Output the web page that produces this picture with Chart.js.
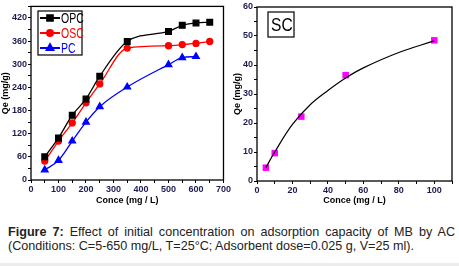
<!DOCTYPE html>
<html>
<head>
<meta charset="utf-8">
<script src="https://cdn.jsdelivr.net/npm/chart.js@4"></script>
<style>
  body { margin: 0; background: #fff; width: 459px; height: 266px; position: relative; overflow: hidden; }
  .wrap { position: absolute; top: 0; }
  #left { left: 0; width: 232px; height: 206px; }
  #right { left: 232px; width: 227px; height: 206px; }
  .cap {
    position: absolute; left: 8px; width: 447px;
    font-family: "Liberation Sans", Arial, sans-serif; font-size: 12.6px; color: #222;
    white-space: nowrap;
  }
  #cap1 { top: 225px; text-align: justify; text-align-last: justify; white-space: normal; }
  #cap2 { top: 239px; }
  .bar { position: absolute; left: 0; right: 0; bottom: 0; height: 3px; background: #ececec; }
</style>
</head>
<body>
<div class="wrap" id="left"><canvas id="c1"></canvas></div>
<div class="wrap" id="right"><canvas id="c2"></canvas></div>
<div class="cap" id="cap1"><b>Figure 7:</b> Effect of initial concentration on adsorption capacity of MB by AC</div>
<div class="cap" id="cap2">(Conditions: C=5-650 mg/L, T=25°C; Adsorbent dose=0.025 g, V=25 ml).</div>
<div class="bar"></div>
<script>
// left panel
const concA = [50, 100, 150, 200, 250, 350, 500, 550, 600, 650];
const opc = [60, 109, 168, 210, 269, 359, 385, 401, 407, 409];
const osc = [49, 101, 148, 200, 249, 342, 348, 351, 354, 359];
const concPC = [50, 100, 150, 200, 250, 350, 500, 550, 600];
const pc = [26, 51, 101, 150, 190, 241, 299, 317, 320];

// right panel
const concSC = [5, 10, 25, 50, 100];
const sc = [4.6, 9.6, 22.2, 36.5, 48.5];
const fitX = [5, 10, 20, 30, 40, 50, 60, 80, 100];
const fitSC = [4.6, 10, 19.5, 26.3, 31.2, 35.5, 39, 44.3, 48.3];

const narrow = "'Liberation Sans Narrow', 'Liberation Sans', Arial, sans-serif";
const tickFont = { family: narrow, size: 9, weight: 'bold' };
const tickColor = '#1c1c50';

const pts = (xs, ys) => xs.map((x, i) => ({ x: x, y: ys[i] }));

const frame = {
  id: 'frame',
  afterDraw(chart) {
    const a = chart.chartArea, ctx = chart.ctx;
    ctx.save();
    ctx.strokeStyle = '#000';
    ctx.lineWidth = 1.3;
    ctx.strokeRect(a.left, a.top, a.right - a.left, a.bottom - a.top);
    ctx.restore();
  }
};

// squeezed text, the original uses a condensed face
function narrowText(ctx, txt, x, y, size, sx) {
  ctx.save();
  ctx.translate(x, y);
  ctx.scale(sx, 1);
  ctx.font = size + "px 'Liberation Sans', Arial, sans-serif";
  ctx.fillText(txt, 0, 0);
  ctx.restore();
}

const legendBox = {
  id: 'legendBox',
  afterDraw(chart) {
    const ctx = chart.ctx;
    ctx.save();
    ctx.strokeStyle = '#000';
    ctx.lineWidth = 1.2;
    ctx.strokeRect(38, 11, 44, 44);
    chart.data.datasets.forEach((ds, i) => {
      const y = 18 + i * 15;
      ctx.strokeStyle = ds.borderColor;
      ctx.lineWidth = 2;
      ctx.beginPath(); ctx.moveTo(40, y); ctx.lineTo(60, y); ctx.stroke();
      ctx.fillStyle = ds.borderColor;
      Chart.helpers.drawPoint(ctx, { pointStyle: ds.pointStyle, radius: ds.pointRadius, borderWidth: 1 }, 50, y);
      ctx.textBaseline = 'middle';
      narrowText(ctx, ds.label, 61, y + 1, 14, 0.75);
    });
    ctx.restore();
  }
};

const scBox = {
  id: 'scBox',
  afterDraw(chart) {
    const ctx = chart.ctx;
    ctx.save();
    ctx.strokeStyle = '#000';
    ctx.lineWidth = 1.2;
    ctx.strokeRect(36, 12, 26, 25);
    ctx.fillStyle = '#000';
    ctx.textBaseline = 'middle';
    narrowText(ctx, 'SC', 39, 25.5, 19, 0.82);
    ctx.restore();
  }
};

function axis(min, max, step, labelEvery, title, fit) {
  return {
    type: 'linear', min: min, max: max,
    afterFit: fit,
    border: { display: false },
    grid: { drawOnChartArea: false, tickLength: 3, color: '#000', lineWidth: 1 },
    ticks: {
      stepSize: step, autoSkip: false, maxRotation: 0, padding: 1,
      color: tickColor, font: tickFont,
      callback: v => (Math.round(v / labelEvery) * labelEvery === v ? v : '')
    },
    title: { display: true, text: title, color: '#000', font: { family: narrow, size: 9, weight: 'bold' }, padding: 0 }
  };
}

new Chart(document.getElementById('c1'), {
  type: 'scatter',
  data: {
    datasets: [
      { label: 'OPC', data: pts(concA, opc), showLine: true, borderColor: '#000', backgroundColor: '#000',
        pointStyle: 'rect', pointRadius: 4, borderWidth: 1.3 },
      { label: 'OSC', data: pts(concA, osc), showLine: true, borderColor: '#ff0000', backgroundColor: '#ff0000',
        pointStyle: 'circle', pointRadius: 3, borderWidth: 1.3 },
      { label: 'PC', data: pts(concPC, pc), showLine: true, borderColor: '#0000ff', backgroundColor: '#0000ff',
        pointStyle: 'triangle', pointRadius: 3.8, borderWidth: 1.3 }
    ]
  },
  options: {
    responsive: true, maintainAspectRatio: false, animation: false,
    layout: { padding: { top: 5, right: 6, left: 0, bottom: 0 } },
    elements: { line: { cubicInterpolationMode: 'monotone' }, point: { borderWidth: 0 } },
    plugins: { legend: { display: false }, tooltip: { enabled: false } },
    scales: {
      x: axis(0, 700, 50, 100, 'Conce (mg / L)', s => { s.height = 26; }),
      y: axis(0, 450, 30, 60, 'Qe (mg/g)', s => { s.width = 31; })
    }
  },
  plugins: [frame, legendBox]
});

new Chart(document.getElementById('c2'), {
  type: 'scatter',
  data: {
    datasets: [
      { label: 'fit', data: pts(fitX, fitSC), showLine: true, borderColor: '#000', borderWidth: 1.2,
        pointRadius: 0, tension: 0.4 },
      { label: 'SC', data: pts(concSC, sc), showLine: false, backgroundColor: '#ff00ff', borderColor: '#ff00ff',
        pointStyle: 'rect', pointRadius: 4.6, borderWidth: 0 }
    ]
  },
  options: {
    responsive: true, maintainAspectRatio: false, animation: false,
    layout: { padding: { top: 7, right: 7, left: 0, bottom: 0 } },
    plugins: { legend: { display: false }, tooltip: { enabled: false } },
    scales: {
      x: axis(0, 110, 10, 20, 'Conce (mg / L)', s => { s.height = 25; }),
      y: axis(0, 60, 5, 10, 'Qe (mg/g)', s => { s.width = 25; })
    }
  },
  plugins: [frame, scBox]
});
</script>
</body>
</html>
